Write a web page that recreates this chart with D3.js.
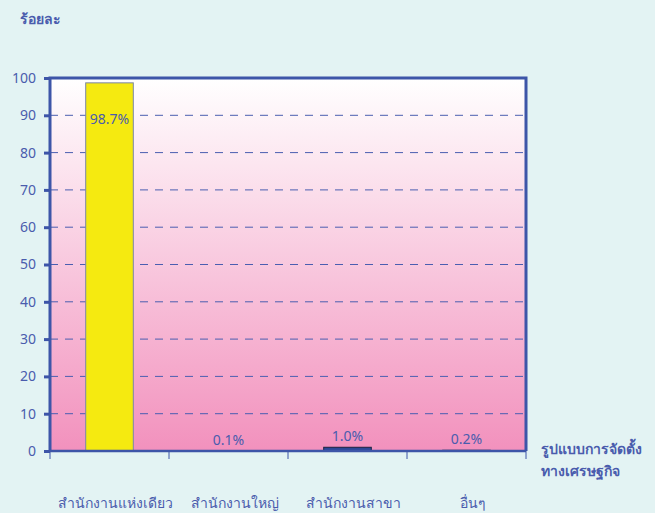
<!DOCTYPE html>
<html>
<head>
<meta charset="utf-8">
<script src="https://cdn.jsdelivr.net/npm/d3@7"></script>
<style>
  body { margin: 0; background: #e3f3f3; }
  svg { display: block; font-family: Tahoma, "Noto Sans", "DejaVu Sans", sans-serif; }
</style>
</head>
<body>
<div id="chart"></div>
<script>
var categories = ["สำนักงานแห่งเดียว", "สำนักงานใหญ่", "สำนักงานสาขา", "อื่นๆ"]
var values = [98.7, 0.1, 1.0, 0.2]
var valueLabels = ["98.7%", "0.1%", "1.0%", "0.2%"]
var barColors = ["#f5ea10", "#2c4796", "#2c4796", "#2c4796"]
var yTicks = [0, 10, 20, 30, 40, 50, 60, 70, 80, 90, 100]
var yTitle = "ร้อยละ"
var xTitle = ["รูปแบบการจัดตั้ง", "ทางเศรษฐกิจ"]

var width = 655, height = 513
var margin = {top: 78, right: 129, bottom: 62, left: 50}
var textColor = "#4a5cad"
var frameColor = "#3d55a8"

var svg = d3.select("#chart").append("svg")
  .attr("width", width)
  .attr("height", height)

var defs = svg.append("defs")
var grad = defs.append("linearGradient")
  .attr("id", "plotBg")
  .attr("x1", 0).attr("y1", 0).attr("x2", 0).attr("y2", 1)
grad.append("stop").attr("offset", "0%").attr("stop-color", "#ffffff")
grad.append("stop").attr("offset", "100%").attr("stop-color", "#f291bd")

var x = d3.scaleBand()
  .domain(categories)
  .range([margin.left, width - margin.right])
  .paddingInner(0)
  .paddingOuter(0)

var y = d3.scaleLinear()
  .domain([0, 100])
  .range([height - margin.bottom, margin.top])

// plot background
svg.append("rect")
  .attr("x", margin.left)
  .attr("y", margin.top)
  .attr("width", width - margin.left - margin.right)
  .attr("height", height - margin.top - margin.bottom)
  .attr("fill", "url(#plotBg)")

// dashed gridlines
svg.append("g")
  .selectAll("line")
  .data(yTicks.filter(d => d > 0 && d < 100))
  .enter().append("line")
  .attr("x1", margin.left)
  .attr("x2", width - margin.right)
  .attr("y1", d => y(d))
  .attr("y2", d => y(d))
  .attr("stroke", "#4a5eb0")
  .attr("stroke-width", 1)
  .attr("stroke-dasharray", "8,7")

// bars
var barW = x.bandwidth() * 0.4
svg.append("g")
  .selectAll("rect")
  .data(values)
  .enter().append("rect")
  .attr("x", (d, i) => x(categories[i]) + (x.bandwidth() - barW) / 2)
  .attr("y", d => y(d))
  .attr("width", barW)
  .attr("height", d => y(0) - y(d))
  .attr("fill", (d, i) => barColors[i])
  .attr("stroke", (d, i) => i === 0 ? "#7a86a8" : "#1c2340")
  .attr("stroke-width", 1)

// value labels
svg.append("g")
  .selectAll("text")
  .data(values)
  .enter().append("text")
  .attr("x", (d, i) => x(categories[i]) + x.bandwidth() / 2)
  .attr("y", d => d > 50 ? y(d) + 41 : y(d) - 6)
  .attr("text-anchor", "middle")
  .attr("fill", textColor)
  .attr("font-size", 14)
  .text((d, i) => valueLabels[i])

// y axis
var yAxis = d3.axisLeft(y)
  .tickValues(yTicks)
  .tickSize(6)
  .tickPadding(8)
var gy = svg.append("g")
  .attr("transform", "translate(" + margin.left + ",0)")
  .call(yAxis)
gy.select(".domain").remove()
gy.selectAll(".tick line").attr("stroke", frameColor).attr("stroke-width", 3)
gy.selectAll(".tick text")
  .attr("fill", textColor)
  .attr("font-size", 14)
  .attr("font-family", "Tahoma, 'Noto Sans', 'DejaVu Sans', sans-serif")

// x axis with boundary ticks
var bounds = categories.map(c => x(c)).concat([x.range()[1]])
svg.append("g")
  .selectAll("line")
  .data(bounds)
  .enter().append("line")
  .attr("x1", d => d).attr("x2", d => d)
  .attr("y1", y(0)).attr("y2", y(0) + 8)
  .attr("stroke", frameColor)
  .attr("stroke-width", 1)

svg.append("g")
  .selectAll("text")
  .data(categories)
  .enter().append("text")
  .attr("x", d => x(d) + x.bandwidth() / 2 + 6)
  .attr("y", 508)
  .attr("text-anchor", "middle")
  .attr("fill", textColor)
  .attr("font-size", 14)
  .text(d => d)

// frame
var x0 = margin.left, x1 = width - margin.right, yTop = y(100), yBot = y(0)
svg.append("path")
  .attr("d", "M" + x0 + "," + yBot + "V" + yTop + "H" + x1 + "V" + yBot)
  .attr("fill", "none")
  .attr("stroke", frameColor)
  .attr("stroke-width", 3)
svg.append("line")
  .attr("x1", x0).attr("x2", x1)
  .attr("y1", yBot).attr("y2", yBot)
  .attr("stroke", frameColor)
  .attr("stroke-width", 2.5)

// titles
svg.append("text")
  .attr("x", 20)
  .attr("y", 24)
  .attr("fill", textColor)
  .attr("font-size", 14)
  .attr("font-weight", "bold")
  .text(yTitle)

svg.append("g")
  .selectAll("text")
  .data(xTitle)
  .enter().append("text")
  .attr("x", 541)
  .attr("y", (d, i) => 454 + i * 22)
  .attr("fill", textColor)
  .attr("font-size", 14)
  .attr("font-weight", "bold")
  .text(d => d)
</script>
</body>
</html>
